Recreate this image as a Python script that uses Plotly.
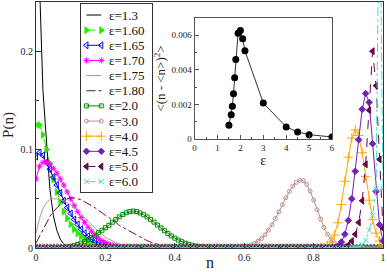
import plotly.graph_objects as go

# ---------------- data ----------------
n_grid = [i / 100 for i in range(101)]

p_e1_30 = [0.60, 0.27, 0.16, 0.11, 0.06, 0.033, 0.018, 0.009, 0.004, 0.0015, 0.0005,
           0, 0, 0, 0, 0, 0, 0, 0, 0, 0, 0, 0, 0, 0, 0, 0, 0, 0, 0, 0, 0, 0, 0, 0, 0, 0, 0, 0, 0, 0,
           0, 0, 0, 0, 0, 0, 0, 0, 0, 0, 0, 0, 0, 0, 0, 0, 0, 0, 0, 0, 0, 0, 0, 0, 0, 0, 0, 0, 0, 0,
           0, 0, 0, 0, 0, 0, 0, 0, 0, 0, 0, 0, 0, 0, 0, 0, 0, 0, 0, 0, 0, 0, 0, 0, 0, 0, 0, 0, 0, 0]
p_e1_60 = [0.125, 0.125, 0.115, 0.10, 0.086, 0.07, 0.057, 0.046, 0.037, 0.03, 0.024, 0.019,
           0.015, 0.012, 0.009, 0.0065, 0.0045, 0.003, 0.002, 0.0012, 0.0007, 0.0004, 0.0002,
           0, 0, 0, 0, 0, 0, 0, 0, 0, 0, 0, 0, 0, 0, 0, 0, 0, 0, 0, 0, 0, 0, 0, 0, 0, 0, 0, 0,
           0, 0, 0, 0, 0, 0, 0, 0, 0, 0, 0, 0, 0, 0, 0, 0, 0, 0, 0, 0, 0, 0, 0, 0, 0, 0, 0, 0,
           0, 0, 0, 0, 0, 0, 0, 0, 0, 0, 0, 0, 0, 0, 0, 0, 0, 0, 0, 0, 0, 0]
p_e1_65 = [0.093, 0.097, 0.094, 0.087, 0.08, 0.072, 0.064, 0.056, 0.048, 0.041, 0.035, 0.029,
           0.024, 0.019, 0.015, 0.012, 0.009, 0.007, 0.005, 0.0035, 0.0024, 0.0016, 0.001,
           0.0006, 0.0003, 0.0002,
           0, 0, 0, 0, 0, 0, 0, 0, 0, 0, 0, 0, 0, 0, 0, 0, 0, 0, 0, 0, 0, 0, 0, 0, 0, 0, 0, 0,
           0, 0, 0, 0, 0, 0, 0, 0, 0, 0, 0, 0, 0, 0, 0, 0, 0, 0, 0, 0, 0, 0, 0, 0, 0, 0, 0, 0,
           0, 0, 0, 0, 0, 0, 0, 0, 0, 0, 0, 0, 0, 0, 0, 0, 0, 0, 0]
p_e1_70 = [0.07, 0.083, 0.087, 0.087, 0.085, 0.081, 0.076, 0.07, 0.064, 0.057, 0.05, 0.043,
           0.037, 0.031, 0.026, 0.021, 0.017, 0.013, 0.01, 0.0075, 0.0055, 0.004, 0.0028,
           0.002, 0.0013, 0.0008, 0.0005, 0.0003,
           0, 0, 0, 0, 0, 0, 0, 0, 0, 0, 0, 0, 0, 0, 0, 0, 0, 0, 0, 0, 0, 0, 0, 0, 0, 0, 0, 0,
           0, 0, 0, 0, 0, 0, 0, 0, 0, 0, 0, 0, 0, 0, 0, 0, 0, 0, 0, 0, 0, 0, 0, 0, 0, 0, 0, 0,
           0, 0, 0, 0, 0, 0, 0, 0, 0, 0, 0, 0, 0, 0, 0, 0, 0]
p_e1_75 = [0.015, 0.03, 0.04, 0.046, 0.049, 0.05, 0.05, 0.049, 0.048, 0.046, 0.044, 0.041,
           0.038, 0.035, 0.031, 0.027, 0.024, 0.02, 0.017, 0.014, 0.011, 0.009, 0.007, 0.005,
           0.0038, 0.0028, 0.002, 0.0013, 0.0008, 0.0005, 0.0003,
           0, 0, 0, 0, 0, 0, 0, 0, 0, 0, 0, 0, 0, 0, 0, 0, 0, 0, 0, 0, 0, 0, 0, 0, 0, 0, 0, 0,
           0, 0, 0, 0, 0, 0, 0, 0, 0, 0, 0, 0, 0, 0, 0, 0, 0, 0, 0, 0, 0, 0, 0, 0, 0, 0, 0, 0,
           0, 0, 0, 0, 0, 0, 0, 0, 0, 0, 0, 0, 0, 0]
p_e1_80 = [0.005, 0.012, 0.019, 0.026, 0.032, 0.037, 0.041, 0.045, 0.048, 0.05, 0.051, 0.051,
           0.05, 0.049, 0.047, 0.045, 0.043, 0.041, 0.038, 0.036, 0.033, 0.031, 0.028, 0.026,
           0.023, 0.021, 0.019, 0.017, 0.015, 0.013, 0.011, 0.009, 0.0075, 0.006, 0.0048,
           0.0037, 0.0028, 0.002, 0.0014, 0.0009, 0.0005,
           0, 0, 0, 0, 0, 0, 0, 0, 0, 0, 0, 0, 0, 0, 0, 0, 0, 0, 0, 0, 0, 0, 0, 0, 0, 0, 0, 0,
           0, 0, 0, 0, 0, 0, 0, 0, 0, 0, 0, 0, 0, 0, 0, 0, 0, 0, 0, 0, 0, 0, 0, 0, 0, 0, 0, 0,
           0, 0, 0, 0]
p_e2_0 = [0, 0, 0, 0, 0, 0,
          0.0002, 0.0004, 0.0007, 0.0011, 0.0017, 0.0025, 0.0036, 0.005, 0.0066, 0.0085,
          0.0107, 0.013, 0.0155, 0.018, 0.0206, 0.023, 0.0262, 0.029, 0.0316, 0.034, 0.0358,
          0.037, 0.0375, 0.037, 0.0356, 0.0338, 0.0316, 0.0291, 0.0263, 0.0233, 0.0204,
          0.0175, 0.0148, 0.0123, 0.0100, 0.0081, 0.0064, 0.0049, 0.0038, 0.0028, 0.0021,
          0.0015, 0.0011, 0.0007, 0.0005, 0.0003, 0.0002, 0.0001,
          0, 0, 0, 0, 0, 0, 0, 0, 0, 0, 0, 0, 0, 0, 0, 0, 0, 0, 0, 0, 0, 0, 0, 0, 0, 0, 0,
          0, 0, 0, 0, 0, 0, 0, 0, 0, 0, 0, 0, 0, 0, 0, 0, 0, 0, 0, 0, 0, 0, 0, 0]
p_e3_0 = [0, 0, 0, 0, 0, 0, 0, 0, 0, 0, 0, 0, 0, 0, 0, 0, 0, 0, 0, 0, 0, 0, 0, 0, 0, 0, 0, 0,
          0, 0, 0, 0, 0, 0, 0, 0, 0, 0, 0, 0, 0, 0, 0, 0, 0, 0, 0, 0, 0, 0, 0, 0, 0, 0, 0, 0,
          0.0001, 0.0002, 0.0004, 0.0007, 0.0012, 0.0019, 0.003, 0.0046, 0.0068, 0.0097,
          0.0134, 0.0181, 0.0236, 0.0299, 0.0368, 0.044, 0.0511, 0.0575, 0.0629, 0.0667,
          0.0687, 0.0685, 0.0647, 0.0578, 0.0488, 0.0389, 0.0293, 0.0208, 0.014, 0.0089,
          0.0053, 0.003, 0.0016, 0.0008, 0.0004, 0.0002, 0.0001,
          0, 0, 0, 0, 0, 0, 0, 0]
p_e4_0 = [0, 0, 0, 0, 0, 0, 0, 0, 0, 0, 0, 0, 0, 0, 0, 0, 0, 0, 0, 0, 0, 0, 0, 0, 0, 0, 0,
          0, 0, 0, 0, 0, 0, 0, 0, 0, 0, 0, 0, 0, 0, 0, 0, 0, 0, 0, 0, 0, 0, 0, 0, 0, 0, 0,
          0, 0, 0, 0, 0, 0, 0, 0, 0, 0, 0, 0, 0, 0, 0, 0, 0, 0, 0, 0, 0, 0, 0, 0, 0, 0, 0,
          0.0001, 0.0003, 0.0009, 0.0024, 0.006, 0.0131, 0.0256, 0.0442, 0.0678, 0.0923,
          0.1117, 0.12, 0.1143, 0.0968, 0.0728, 0.0486, 0.0288, 0.0151, 0.0071, 0.0029]
p_e4_5 = [0, 0, 0, 0, 0, 0, 0, 0, 0, 0, 0, 0, 0, 0, 0, 0, 0, 0, 0, 0, 0, 0, 0, 0, 0, 0, 0,
          0, 0, 0, 0, 0, 0, 0, 0, 0, 0, 0, 0, 0, 0, 0, 0, 0, 0, 0, 0, 0, 0, 0, 0, 0, 0, 0,
          0, 0, 0, 0, 0, 0, 0, 0, 0, 0, 0, 0, 0, 0, 0, 0, 0, 0, 0, 0, 0, 0, 0, 0, 0, 0, 0,
          0, 0, 0, 0,
          0.0001, 0.0005, 0.0018, 0.006, 0.014, 0.028, 0.05, 0.078, 0.110, 0.141, 0.157,
          0.148, 0.106, 0.0575, 0.0237, 0.0074]
p_e5_0 = [0, 0, 0, 0, 0, 0, 0, 0, 0, 0, 0, 0, 0, 0, 0, 0, 0, 0, 0, 0, 0, 0, 0, 0, 0, 0, 0,
          0, 0, 0, 0, 0, 0, 0, 0, 0, 0, 0, 0, 0, 0, 0, 0, 0, 0, 0, 0, 0, 0, 0, 0, 0, 0, 0,
          0, 0, 0, 0, 0, 0, 0, 0, 0, 0, 0, 0, 0, 0, 0, 0, 0, 0, 0, 0, 0, 0, 0, 0, 0, 0, 0,
          0, 0, 0, 0, 0, 0, 0, 0,
          0.001, 0.003, 0.007, 0.014, 0.026, 0.048, 0.085, 0.14, 0.2, 0.165, 0.09, 0.02]
p_e6_0 = [0, 0, 0, 0, 0, 0, 0, 0, 0, 0, 0, 0, 0, 0, 0, 0, 0, 0, 0, 0, 0, 0, 0, 0, 0, 0, 0,
          0, 0, 0, 0, 0, 0, 0, 0, 0, 0, 0, 0, 0, 0, 0, 0, 0, 0, 0, 0, 0, 0, 0, 0, 0, 0, 0,
          0, 0, 0, 0, 0, 0, 0, 0, 0, 0, 0, 0, 0, 0, 0, 0, 0, 0, 0, 0, 0, 0, 0, 0, 0, 0, 0,
          0, 0, 0, 0, 0, 0, 0, 0, 0, 0, 0,
          0.0005, 0.001, 0.003, 0.008, 0.018, 0.033, 0.06, 0.4, 0.06]

legend_labels = ["ε=1.3", "ε=1.60", "ε=1.65", "ε=1.70", "ε=1.75", "ε=1.80",
                 "ε=2.0", "ε=3.0", "ε=4.0", "ε=4.5", "ε=5.0", "ε=6.0"]

eps_inset = [1.5, 1.6, 1.65, 1.7, 1.75, 1.8, 1.9, 2.0, 2.1, 2.2, 3.0, 4.0, 4.5, 5.0, 6.0]
var_inset = [0.00080, 0.00141, 0.00190, 0.00262, 0.00355, 0.00460, 0.00612, 0.00628,
             0.00580, 0.00510, 0.00208, 0.00070, 0.00041, 0.00025, 0.00012]

# ---------------- styles ----------------
series = [p_e1_30, p_e1_60, p_e1_65, p_e1_70, p_e1_75, p_e1_80,
          p_e2_0, p_e3_0, p_e4_0, p_e4_5, p_e5_0, p_e6_0]
colors = ["#000000", "#22ee00", "#0000ff", "#ff00ff", "#bc8f8f", "#670748",
          "#008b00", "#bc8f8f", "#ffa500", "#7221bc", "#670748", "#40e0d0"]
dashes = ["solid", "dash", "solid", "solid", "solid", "dashdot",
          "solid", "solid", "solid", "solid", "dash", "dashdot"]
symbols = [None, "triangle-right", "triangle-left-open", "asterisk-open", None, None,
           "square-open", "circle-open", "cross-thin-open", "diamond", "triangle-left",
           "x-thin-open"]
msizes = [0, 6, 6, 5, 0, 0, 4, 4, 7, 5, 6, 5]

FONT = "Liberation Serif"
AXC = "#333333"

fig = go.Figure()
for lab, ys, col, dsh, sym, ms in zip(legend_labels, series, colors, dashes, symbols, msizes):
    mode = "lines" if sym is None else "lines+markers"
    mk = dict() if sym is None else dict(symbol=sym, size=ms, color=col,
                                         line=dict(color=col, width=1))
    fig.add_trace(go.Scatter(x=n_grid, y=ys, mode=mode, name=lab, showlegend=False,
                             line=dict(color=col, width=1, dash=dsh), marker=mk))

# inset
fig.add_trace(go.Scatter(x=eps_inset, y=var_inset, mode="lines+markers", showlegend=False,
                         line=dict(color="#333333", width=1),
                         marker=dict(symbol="circle", size=7, color="black"),
                         xaxis="x2", yaxis="y2"))

# legend box (grace style: short sample with a symbol at each end)
for i, (lab, col, dsh, sym, ms) in enumerate(zip(legend_labels, colors, dashes, symbols, msizes)):
    mode = "lines" if sym is None else "lines+markers"
    mk = dict() if sym is None else dict(symbol=sym, size=ms, color=col,
                                         line=dict(color=col, width=1))
    fig.add_trace(go.Scatter(x=[0.08, 0.29], y=[i, i], mode=mode, showlegend=False,
                             hoverinfo="skip", line=dict(color=col, width=1, dash=dsh),
                             marker=mk, xaxis="x3", yaxis="y3", cliponaxis=False))
    fig.add_annotation(x=0.37, y=i, xref="x3", yref="y3", text=lab, showarrow=False,
                       xanchor="left", yanchor="middle",
                       font=dict(family=FONT, size=13, color="#111"))

axis_common = dict(showgrid=False, zeroline=False, showline=True, mirror=True,
                   ticks="inside", linecolor=AXC, linewidth=1,
                   tickcolor=AXC, tickfont=dict(family=FONT, size=10, color="#222"))
inset_axis = {**axis_common, "linecolor": "#555", "tickcolor": "#555",
              "tickfont": dict(family=FONT, size=9, color="#222")}

fig.update_layout(
    width=387, height=272,
    margin=dict(l=36, r=4, t=2, b=24),
    paper_bgcolor="white", plot_bgcolor="white",
    font=dict(family=FONT, color="#222"),
    showlegend=False,
    xaxis=dict(range=[0, 1], dtick=0.2, tick0=0, ticklen=5,
               minor=dict(dtick=0.1, ticklen=3, ticks="inside", tickcolor=AXC),
               **axis_common),
    yaxis=dict(range=[0, 0.25], dtick=0.1, tick0=0, ticklen=5,
               minor=dict(dtick=0.05, ticklen=3, ticks="inside", tickcolor=AXC),
               title=dict(text="P(n)", font=dict(family=FONT, size=15), standoff=4),
               **axis_common),
    xaxis2=dict(domain=[0.457, 0.853], anchor="y2", range=[0, 6], dtick=1, ticklen=4,
                minor=dict(dtick=0.5, ticklen=2, ticks="inside", tickcolor="#555"),
                title=dict(text="ε", font=dict(family=FONT, size=14), standoff=0),
                **inset_axis),
    yaxis2=dict(domain=[0.443, 0.935], anchor="x2", range=[0, 0.007], dtick=0.002, ticklen=4,
                minor=dict(dtick=0.001, ticklen=2, ticks="inside", tickcolor="#555"),
                title=dict(text="&lt;(n - &lt;n&gt;)<sup>2</sup>&gt;",
                           font=dict(family=FONT, size=13), standoff=2),
                **inset_axis),
    xaxis3=dict(domain=[0.129, 0.333], anchor="y3", range=[0, 1], showgrid=False,
                zeroline=False, showticklabels=False, ticks="", showline=True, mirror=True,
                linecolor=AXC, linewidth=1, fixedrange=True),
    yaxis3=dict(domain=[0.228, 0.992], anchor="x3", range=[11.68, -0.73], showgrid=False,
                zeroline=False, showticklabels=False, ticks="", showline=True, mirror=True,
                linecolor=AXC, linewidth=1, fixedrange=True),
)

fig.add_annotation(text="n", x=0.5, y=-0.058, xref="paper", yref="paper",
                   showarrow=False, yanchor="middle",
                   font=dict(family=FONT, size=16, color="#222"))

fig.write_html("out.html", config={"displayModeBar": False},
               post_script="document.body.style.margin='0px';")
